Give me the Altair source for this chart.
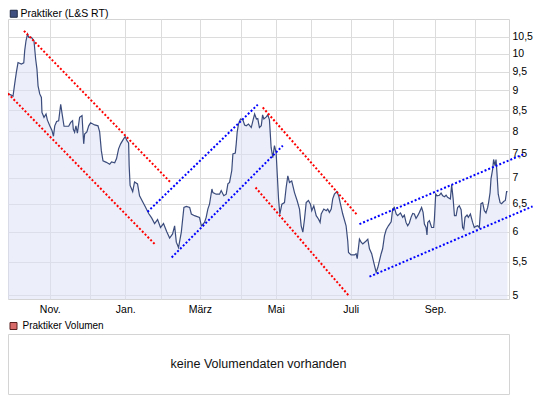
import altair as alt
import pandas as pd

FONT = "Liberation Sans"

# Trading-day index (x) and price in EUR (y)
day = [
    0.0, 1.8, 2.7, 3.6, 4.5, 5.4, 7.2, 8.5, 9.0, 9.7,
    10.5, 11.2, 12.6, 14.0, 14.9, 15.6, 16.2, 17.1, 18.0, 18.3,
    19.4, 20.5, 21.2, 22.5, 23.7, 24.5, 25.2, 26.2, 27.3, 28.4,
    29.1, 30.2, 32.7, 33.8, 34.8, 35.2, 35.9, 36.6, 37.4, 38.6,
    39.9, 40.4, 40.8, 41.3, 42.5, 43.5, 44.5, 46.7, 48.5, 49.4,
    50.3, 51.2, 53.0, 54.8, 55.8, 57.5, 58.5, 59.6, 60.7, 62.3,
    63.2, 64.1, 65.0, 65.3, 65.8, 67.2, 68.2, 69.8, 70.9, 72.5,
    74.2, 75.8, 77.4, 79.0, 80.6, 82.2, 83.8, 85.5, 87.1, 88.7,
    89.8, 90.7, 91.9, 93.4, 94.8, 96.1, 97.9, 98.8, 100.5, 103.2,
    104.2, 105.9, 106.8, 107.7, 108.6, 109.9, 110.4, 112.2, 114.0, 114.9,
    116.3, 117.6, 118.5, 119.4, 120.6, 121.2, 122.5, 123.0, 123.5, 124.2,
    125.3, 126.6, 127.5, 128.4, 129.6, 131.1, 132.2, 132.9, 133.9, 134.6,
    135.5, 136.5, 137.2, 137.9, 139.2, 140.0, 140.9, 141.8, 142.7, 143.6,
    144.5, 145.1, 145.8, 146.5, 147.6, 149.0, 149.9, 150.8, 151.7, 152.9,
    154.4, 155.8, 157.1, 158.0, 158.9, 159.8, 160.7, 161.9, 163.0, 163.7,
    164.8, 166.1, 167.3, 168.2, 168.8, 170.2, 171.5, 172.3, 173.2, 174.2,
    175.0, 175.9, 177.2, 178.2, 179.0, 180.4, 182.2, 183.1, 183.5, 184.9,
    186.7, 187.6, 188.2, 189.4, 190.3, 191.2, 193.0, 193.9, 194.8, 196.0,
    197.1, 198.4, 199.3, 200.2, 201.1, 201.9, 202.9, 203.8, 205.0, 206.5,
    207.3, 208.2, 209.2, 210.0, 211.5, 212.7, 213.6, 214.5, 215.4, 216.3,
    217.2, 218.1, 219.0, 219.9, 220.8, 221.7, 222.9, 223.7, 224.4, 225.3,
    225.8, 226.2, 227.1, 228.3, 229.4, 229.8, 230.5, 231.2, 232.5, 233.4,
    234.3, 235.2, 236.1, 236.9, 238.4, 239.1, 239.9, 240.6, 241.5, 242.3,
    243.2, 244.2, 245.0, 245.6, 246.3, 247.4, 248.1, 249.2, 250.4, 251.3,
    252.2, 253.1, 254.0, 254.9, 255.8, 256.7, 257.6, 258.5, 259.0, 259.8,
    260.3, 261.2, 261.7, 262.5, 263.0, 263.5, 264.2, 265.2, 266.0, 267.1,
    268.0, 268.7, 269.2,
]
price = [
    8.91, 8.88, 8.85, 9.17, 9.48, 9.75, 9.71, 9.74, 10.09, 10.38,
    10.58, 10.48, 10.48, 10.38, 9.85, 9.57, 9.12, 8.91, 8.82, 8.45,
    8.33, 8.41, 8.27, 8.13, 8.02, 7.89, 8.13, 8.23, 8.25, 8.65,
    8.43, 8.12, 8.12, 8.21, 8.25, 8.05, 7.98, 8.13, 7.96, 8.33,
    8.37, 7.98, 7.72, 7.94, 7.99, 8.13, 8.20, 8.15, 8.13, 7.99,
    7.57, 7.35, 7.32, 7.28, 7.33, 7.31, 7.40, 7.61, 7.72, 7.83,
    7.88, 7.79, 7.74, 7.25, 6.85, 6.73, 6.92, 6.88, 6.65, 6.54,
    6.43, 6.32, 6.24, 6.14, 6.21, 6.07, 6.14, 6.00, 5.89, 5.96,
    6.10, 5.82, 5.73, 5.99, 6.43, 6.45, 6.43, 6.31, 6.28, 6.25,
    6.10, 6.16, 6.25, 6.40, 6.49, 6.78, 6.71, 6.68, 6.68, 6.75,
    6.65, 6.68, 6.88, 6.91, 7.15, 7.50, 7.52, 7.72, 7.98, 8.17,
    8.29, 8.27, 8.15, 8.13, 8.17, 8.09, 8.29, 8.41, 8.29, 8.30,
    8.09, 8.13, 8.39, 8.29, 8.34, 8.39, 8.27, 7.64, 7.42, 7.68,
    7.53, 7.08, 6.59, 6.31, 6.49, 6.52, 6.81, 7.04, 6.91, 6.94,
    6.71, 6.56, 6.40, 6.10, 5.99, 6.22, 6.52, 6.56, 6.49, 6.37,
    6.46, 6.28, 6.22, 6.16, 6.31, 6.40, 6.37, 6.40, 6.34, 6.40,
    6.59, 6.68, 6.73, 6.65, 6.52, 6.31, 6.10, 5.84, 5.65, 5.61,
    5.61, 5.63, 5.55, 5.87, 5.82, 5.79, 5.84, 5.87, 5.71, 5.63,
    5.49, 5.34, 5.41, 5.52, 5.63, 5.71, 5.93, 6.03, 6.10, 6.17,
    6.40, 6.43, 6.31, 6.28, 6.33, 6.25, 6.29, 6.16, 6.10, 6.15,
    6.25, 6.32, 6.31, 6.23, 6.28, 6.34, 6.43, 6.34, 6.13, 6.07,
    5.94, 6.16, 6.19, 6.07, 6.07, 6.22, 6.68, 6.65, 6.66, 6.70,
    6.65, 6.63, 6.66, 6.62, 6.59, 6.86, 6.59, 6.28, 6.28, 6.43,
    6.46, 6.39, 6.07, 6.04, 6.25, 6.29, 6.25, 6.31, 6.16, 6.07,
    6.09, 6.10, 6.07, 6.50, 6.52, 6.37, 6.33, 6.43, 6.52, 6.71,
    6.98, 7.18, 7.38, 7.25, 7.38, 7.11, 6.68, 6.52, 6.50, 6.54,
    6.56, 6.73, 6.73,
]

# Trend channels (start / end points)
trend_seg = ["r1", "r1", "r2", "r2", "b1", "b1", "b2", "b2",
             "r3", "r3", "r4", "r4", "b3", "b3", "b4", "b4"]
trend_day = [8.6, 87.6, 0.0, 79.0, 75.2, 134.6, 88.2, 148.1,
             137.3, 188.5, 133.4, 184.0, 189.4, 278.2, 194.8, 282.7]
trend_price = [10.68, 6.91, 8.92, 5.79, 6.35, 8.64, 5.57, 7.68,
               8.57, 6.28, 6.81, 4.98, 6.13, 7.50, 5.27, 6.45]
trend_col = ["#ff0000"] * 4 + ["#0000ff"] * 4 + ["#ff0000"] * 4 + ["#0000ff"] * 4

# Month boundaries (trading-day index) and labels
month_pos = [22.5, 44.0, 63.2, 82.6, 103.4, 125.5, 144.3, 163.5, 184.7, 207.3, 230.2, 251.7]
month_label = ["Nov.", "", "Jan.", "", "März", "", "Mai", "", "Juli", "", "Sep.", ""]

y_ticks = [5, 5.5, 6, 6.5, 7, 7.5, 8, 8.5, 9, 9.5, 10, 10.5]
y_domain = [4.943, 11.05]
x_domain = [0, 270]

series_top = "Praktiker (L&S RT)"
series_vol = "Praktiker Volumen"
no_volume = "keine Volumendaten vorhanden"

price_df = pd.DataFrame({"day": day, "price": price})
trend_df = pd.DataFrame({"seg": trend_seg, "day": trend_day, "price": trend_price, "col": trend_col})

parts = []
for p, lab in zip(month_pos, month_label):
    if lab:
        parts.append(f"datum.value == {p} ? '{lab}' : ")
label_expr = "".join(parts) + "''"

x_scale = alt.Scale(domain=x_domain, nice=False, zero=False)
y_scale = alt.Scale(type="log", domain=y_domain, nice=False, zero=False)

x_axis = alt.Axis(values=month_pos, grid=True, gridColor="#dcdcdc", ticks=False, tickSize=0,
                  domain=False, labelExpr=label_expr, labelPadding=5, labelFontSize=10.5,
                  labelFont=FONT, labelColor="#000000", title=None, labelFlush=False,
                  labelOverlap=False)
y_axis = alt.Axis(orient="right", values=y_ticks, grid=True, gridColor="#dcdcdc", ticks=False,
                  tickSize=0, domain=False,
                  labelExpr="replace(format(datum.value, '~g'), '.', ',')",
                  labelPadding=3, title=None, labelFontSize=10.5, labelFont=FONT,
                  labelColor="#000000", labelOverlap=False)

X = alt.X("day:Q", scale=x_scale, axis=x_axis)
Y = alt.Y("price:Q", scale=y_scale, axis=y_axis)

area = alt.Chart(price_df).mark_area(color="#dce2f5", opacity=0.55).encode(
    x=X, y=Y, y2=alt.datum(y_domain[0])
)
line = alt.Chart(price_df).mark_line(color="#3b4c7c", strokeWidth=1.2).encode(x=X, y=Y)
trend = alt.Chart(trend_df).mark_line(strokeDash=[2, 2], strokeWidth=2, strokeCap="butt").encode(
    x=X, y=Y, detail="seg:N", stroke=alt.Stroke("col:N", scale=None)
)
leg_top = alt.Chart(pd.DataFrame({"series": [series_top]})).mark_square(opacity=0).encode(
    fill=alt.Fill("series:N", scale=alt.Scale(domain=[series_top], range=["#3f5080"]),
                  legend=alt.Legend(orient="none", legendX=0.5, legendY=-10.5, title=None,
                                    symbolType="square", symbolSize=49, symbolOpacity=1,
                                    symbolStrokeColor="#1f2a44", symbolStrokeWidth=1,
                                    labelFont=FONT, labelFontSize=10.5, labelColor="#000000",
                                    labelOffset=1.5, padding=0))
)
top = alt.layer(area, line, trend, leg_top).properties(width=501, height=280)

vol_text = alt.Chart(pd.DataFrame({"x": [0.5], "y": [0.5], "msg": [no_volume]})).mark_text(
    fontSize=12.5, font=FONT, color="#111111"
).encode(
    x=alt.X("x:Q", scale=alt.Scale(domain=[0, 1]), axis=None),
    y=alt.Y("y:Q", scale=alt.Scale(domain=[0, 1]), axis=None),
    text="msg:N",
)
leg_vol = alt.Chart(pd.DataFrame({"series": [series_vol]})).mark_square(opacity=0).encode(
    fill=alt.Fill("series:N", scale=alt.Scale(domain=[series_vol], range=["#d96a6a"]),
                  legend=alt.Legend(orient="none", legendX=0.5, legendY=-13, title=None,
                                    symbolType="square", symbolSize=49, symbolOpacity=1,
                                    symbolStrokeColor="#5a2020", symbolStrokeWidth=1,
                                    labelFont=FONT, labelFontSize=10, labelColor="#000000",
                                    labelOffset=4, padding=0))
)
bottom = alt.layer(vol_text, leg_vol).properties(width=501, height=60)

chart = (
    alt.vconcat(top, bottom, spacing=5)
    .resolve_scale(fill="independent")
    .properties(padding={"left": -5, "top": 0, "right": 0, "bottom": 0}, background="#ffffff")
    .configure(font=FONT)
    .configure_view(stroke="#d4d4d4", strokeWidth=1)
)

chart.save("out.html", embed_options={"renderer": "svg", "actions": False})
